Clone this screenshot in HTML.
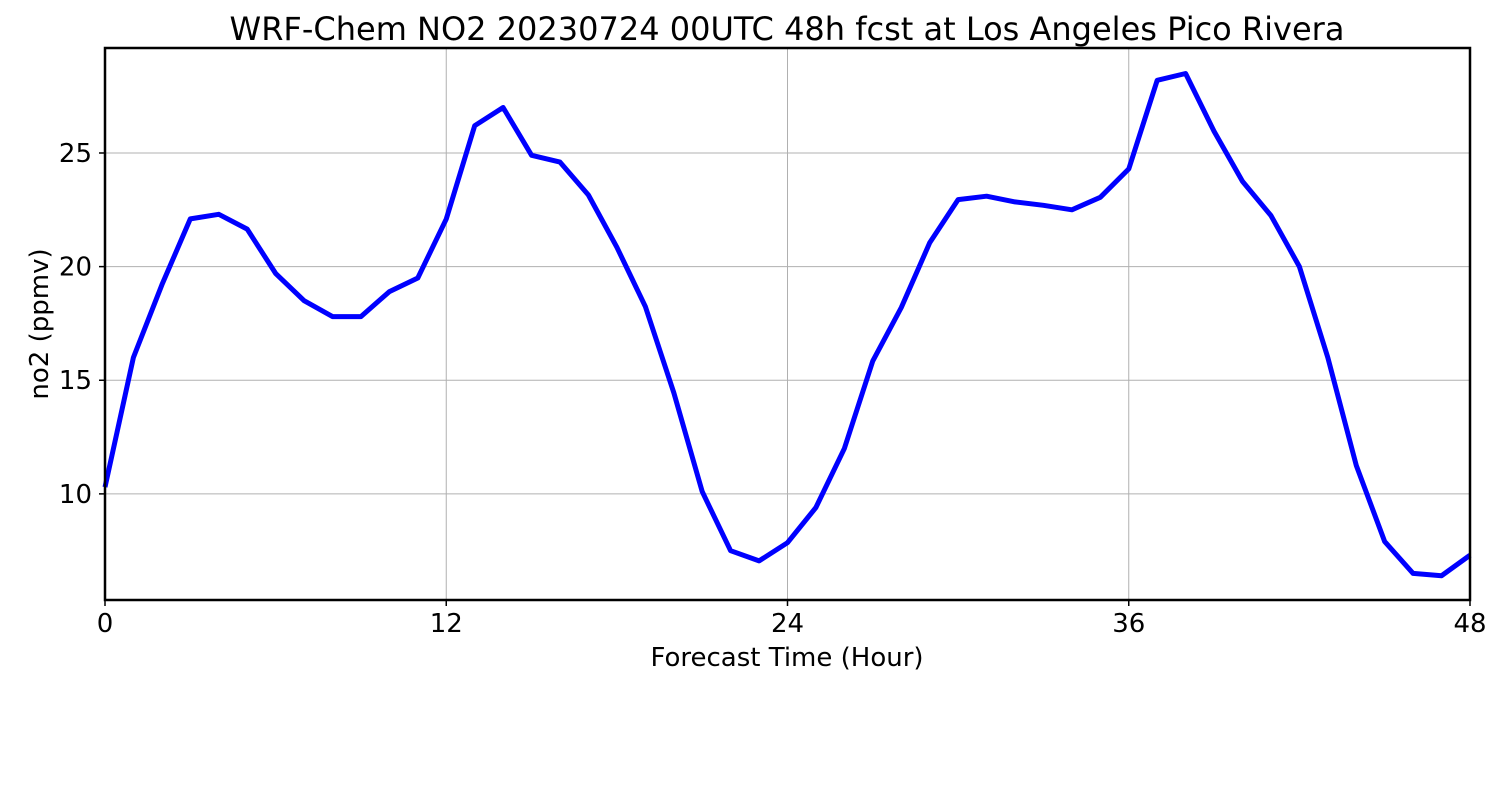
<!DOCTYPE html>
<html><head><meta charset="utf-8"><style>
html,body{margin:0;padding:0;background:#fff;}
svg{display:block;font-family:"DejaVu Sans","Liberation Sans",sans-serif;}
</style></head><body>
<svg id="chart" width="1500" height="800">
<text x="787" y="40" font-size="32" text-anchor="middle">WRF-Chem NO2  20230724 00UTC 48h fcst at Los Angeles Pico Rivera</text>
<g id="grid"></g>
<g id="series"></g>
<rect x="105" y="48" width="1365" height="552" fill="none" stroke="#000" stroke-width="2.5"/>
<g id="ticks"></g>
<text x="787" y="666" font-size="26" text-anchor="middle">Forecast Time (Hour)</text>
<text transform="translate(48,324) rotate(-90)" font-size="26" text-anchor="middle">no2  (ppmv)</text>
</svg>
<script>
const hours = [0,1,2,3,4,5,6,7,8,9,10,11,12,13,14,15,16,17,18,19,20,21,22,23,24,25,26,27,28,29,30,31,32,33,34,35,36,37,38,39,40,41,42,43,44,45,46,47,48];
const no2 = [10.3,16.0,19.2,22.1,22.3,21.65,19.7,18.5,17.8,17.8,18.9,19.5,22.1,26.2,27.0,24.9,24.6,23.15,20.85,18.25,14.45,10.1,7.5,7.05,7.85,9.4,12.0,15.85,18.2,21.05,22.95,23.1,22.85,22.7,22.5,23.05,24.3,28.2,28.5,25.95,23.75,22.25,20.0,16.0,11.25,7.9,6.5,6.4,7.3];
const xTicks = [0,12,24,36,48];
const yTicks = [10,15,20,25];
const NS = "http://www.w3.org/2000/svg";
const x0=105,x1=1470,y0=600,y1=48,xmin=0,xmax=48,ymin=5.33,ymax=29.62;
const xs = v => x0 + (v-xmin)/(xmax-xmin)*(x1-x0);
const ys = v => y0 - (v-ymin)/(ymax-ymin)*(y0-y1);
const grid=document.getElementById('grid'), ticks=document.getElementById('ticks'), series=document.getElementById('series');
function mk(tag, attrs){const e=document.createElementNS(NS,tag);for(const k in attrs)e.setAttribute(k,attrs[k]);return e;}
xTicks.forEach(t=>{
  const X=xs(t);
  const g=mk('line',{x1:X,x2:X,y1:y1,y2:y0,stroke:'#b0b0b0','stroke-width':1});
  
  
  grid.appendChild(g);
  const tk=mk('line',{x1:X,x2:X,y1:y0,y2:y0+6,stroke:'#000','stroke-width':1.5});
  
  
  ticks.appendChild(tk);
  const tx=mk('text',{x:X,y:632,'font-size':26,'text-anchor':'middle'});
  tx.textContent=t;
  
  
  ticks.appendChild(tx);
});
yTicks.forEach(t=>{
  const Y=ys(t);
  const g=mk('line',{x1:x0,x2:x1,y1:Y,y2:Y,stroke:'#b0b0b0','stroke-width':1});
  
  
  grid.appendChild(g);
  const tk=mk('line',{x1:x0-6,x2:x0,y1:Y,y2:Y,stroke:'#000','stroke-width':1.5});
  
  
  ticks.appendChild(tk);
  const tx=mk('text',{x:92,y:Y+9,'font-size':26,'text-anchor':'end'});
  tx.textContent=t;
  
  
  ticks.appendChild(tx);
});
const pts=hours.map((h,i)=>xs(h).toFixed(1)+','+ys(no2[i]).toFixed(1)).join(' ');
const line=mk('polyline',{points:pts,fill:'none',stroke:'#0000ff','stroke-width':5,'stroke-linejoin':'round'});


series.appendChild(line);
</script>
</body></html>
